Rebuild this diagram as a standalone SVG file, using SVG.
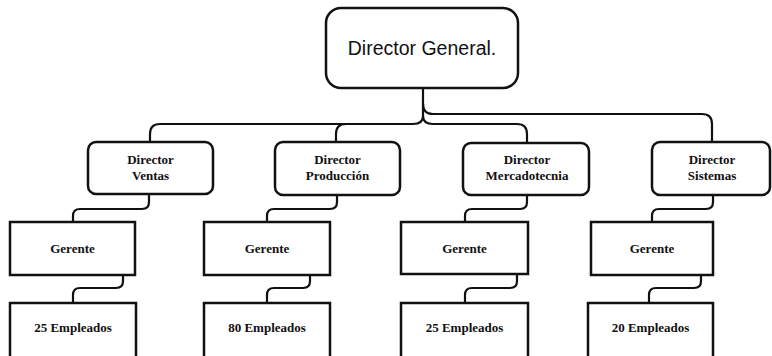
<svg xmlns="http://www.w3.org/2000/svg" width="772" height="356" viewBox="0 0 772 356">
  <style>
    .box { fill: #fff; stroke: #111; stroke-width: 2.5; }
    .wire { fill: none; stroke: #111; stroke-width: 2.2; stroke-linecap: round; }
    .title { font-family: "Liberation Sans", Arial, sans-serif; font-size: 19.5px; fill: #111; text-anchor: middle; }
    .lbl { font-family: "Liberation Serif", "Times New Roman", serif; font-weight: bold; font-size: 13px; fill: #111; text-anchor: middle; }
  </style>
  <rect width="772" height="356" fill="#fff"/>

  <!-- connectors -->
  <g id="connectors">
    <!-- trunk from the top box and the two buses -->
    <path class="wire" d="M423,88 V104 Q423,114 433,114 H702 Q712,114 712,124 V142"/>
    <path class="wire" d="M423,104 V116 Q423,124 413,124 H160 Q150,124 150,134 V142"/>
    <path class="wire" d="M423,116 Q423,124 433,124 H517 Q527,124 527,134 V143"/>
    <path class="wire" d="M346,124 Q336,124 336,134 V142"/>
    <!-- directors to managers -->
    <path class="wire" d="M149,194 V202 Q149,209 142,209 H80 Q73,209 73,216 V222"/>
    <path class="wire" d="M337,195 V202 Q337,209 330,209 H274 Q267,209 267,216 V222"/>
    <path class="wire" d="M527,195 V202 Q527,209 520,209 H472 Q465,209 465,216 V222"/>
    <path class="wire" d="M713,195 V202 Q713,209 706,209 H659 Q652,209 652,216 V222"/>
    <!-- managers to staff -->
    <path class="wire" d="M123,275 V281 Q123,288 116,288 H80 Q73,288 73,295 V303"/>
    <path class="wire" d="M310,275 V281 Q310,288 303,288 H274 Q267,288 267,295 V303"/>
    <path class="wire" d="M517,274 V281 Q517,288 510,288 H472 Q465,288 465,295 V303"/>
    <path class="wire" d="M701,275 V281 Q701,288 694,288 H656 Q649,288 649,295 V303"/>
  </g>

  <g id="director-general">
    <rect class="box" x="326" y="8" width="192" height="80" rx="15"/>
    <text class="title" x="422" y="55">Director General.</text>
  </g>

  <g id="director-ventas">
    <rect class="box" x="88" y="142" width="125" height="52" rx="8"/>
    <text class="lbl" x="150.5" y="164">Director</text>
    <text class="lbl" x="150.5" y="180">Ventas</text>
  </g>
  <g id="director-produccion">
    <rect class="box" x="275" y="142" width="125" height="53" rx="8"/>
    <text class="lbl" x="337.5" y="164">Director</text>
    <text class="lbl" x="337.5" y="180">Producción</text>
  </g>
  <g id="director-mercadotecnia">
    <rect class="box" x="463" y="143" width="126" height="52" rx="8"/>
    <text class="lbl" x="527" y="164">Director</text>
    <text class="lbl" x="527" y="180">Mercadotecnia</text>
  </g>
  <g id="director-sistemas">
    <rect class="box" x="652" y="142" width="118" height="53" rx="8"/>
    <text class="lbl" x="712" y="164">Director</text>
    <text class="lbl" x="712" y="180">Sistemas</text>
  </g>

  <g id="gerente-ventas">
    <rect class="box" x="10" y="222" width="125" height="53"/>
    <text class="lbl" x="72.5" y="253">Gerente</text>
  </g>
  <g id="gerente-produccion">
    <rect class="box" x="204" y="222" width="126" height="53"/>
    <text class="lbl" x="267" y="253">Gerente</text>
  </g>
  <g id="gerente-mercadotecnia">
    <rect class="box" x="401" y="222" width="127" height="52"/>
    <text class="lbl" x="464.5" y="253">Gerente</text>
  </g>
  <g id="gerente-sistemas">
    <rect class="box" x="591" y="222" width="122" height="53"/>
    <text class="lbl" x="652" y="253">Gerente</text>
  </g>

  <g id="empleados-ventas">
    <rect class="box" x="10" y="303" width="126" height="60"/>
    <text class="lbl" x="73" y="332">25 Empleados</text>
  </g>
  <g id="empleados-produccion">
    <rect class="box" x="204" y="303" width="126" height="60"/>
    <text class="lbl" x="267" y="332">80 Empleados</text>
  </g>
  <g id="empleados-mercadotecnia">
    <rect class="box" x="401" y="303" width="127" height="60"/>
    <text class="lbl" x="464.5" y="332">25 Empleados</text>
  </g>
  <g id="empleados-sistemas">
    <rect class="box" x="588" y="303" width="125" height="60"/>
    <text class="lbl" x="650.5" y="332">20 Empleados</text>
  </g>
</svg>
